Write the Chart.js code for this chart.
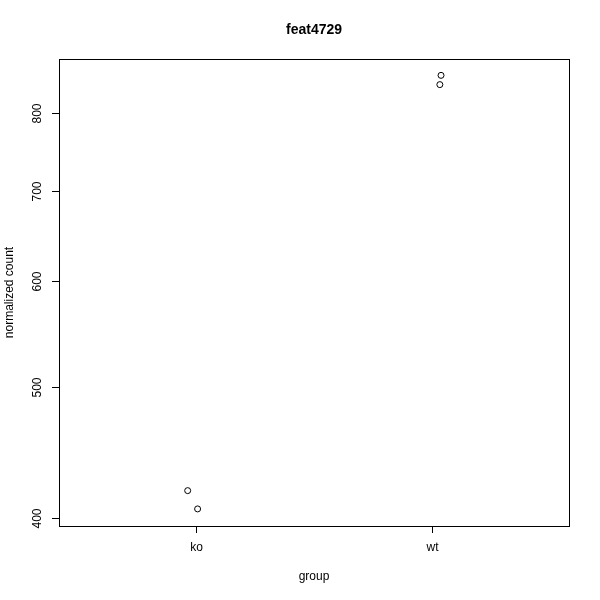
<!DOCTYPE html>
<html>
<head>
<meta charset="utf-8">
<script src="https://cdn.jsdelivr.net/npm/chart.js@4"></script>
<style>
  html, body { margin: 0; padding: 0; background: #fff; }
  #wrap { width: 600px; height: 600px; }
</style>
</head>
<body>
<div id="wrap"><canvas id="c" width="600" height="600"></canvas></div>
<script>
// plotCounts-style stripchart, log y axis
const titleText = 'feat4729';
const xTitle = 'group';
const yTitle = 'normalized count';

const groups = ['ko', 'wt'];
// x = group index + jitter, y = normalized count
const koX = [0.965, 1.007];
const koY = [419.1, 406.2];
const wtX = [2.038, 2.033];
const wtY = [852.8, 839.4];

const yTicks = [400, 500, 600, 700, 800];

const FONT = '"Liberation Sans", Arial, Helvetica, sans-serif';

const points = koX.map((x, i) => ({ x, y: koY[i] }))
  .concat(wtX.map((x, i) => ({ x, y: wtY[i] })));

// R-like frame, ticks and labels
const rAxes = {
  id: 'rAxes',
  afterDraw(chart) {
    const { ctx, chartArea: a, scales } = chart;
    const xs = scales.x, ys = scales.y;
    ctx.save();
    ctx.strokeStyle = '#000';
    ctx.lineWidth = 1;
    ctx.strokeRect(Math.round(a.left) + 0.5, Math.round(a.top) + 0.5,
      Math.round(a.right - a.left), Math.round(a.bottom - a.top));

    ctx.fillStyle = '#000';
    ctx.font = '12px ' + FONT;

    // x ticks
    ctx.textAlign = 'center';
    ctx.textBaseline = 'middle';
    groups.forEach((g, i) => {
      const px = Math.round(xs.getPixelForValue(i + 1)) + 0.5;
      ctx.beginPath();
      ctx.moveTo(px, a.bottom);
      ctx.lineTo(px, a.bottom + 7);
      ctx.stroke();
      ctx.fillText(g, px, 548);
    });

    // y ticks (rotated labels)
    yTicks.forEach(v => {
      const py = Math.round(ys.getPixelForValue(v)) + 0.5;
      ctx.beginPath();
      ctx.moveTo(a.left - 7, py);
      ctx.lineTo(a.left, py);
      ctx.stroke();
      ctx.save();
      ctx.translate(38, py);
      ctx.rotate(-Math.PI / 2);
      ctx.fillText(String(v), 0, 0);
      ctx.restore();
    });

    // titles
    const cx = (a.left + a.right) / 2;
    ctx.fillText(xTitle, cx, 577);
    ctx.save();
    ctx.translate(10, (a.top + a.bottom) / 2);
    ctx.rotate(-Math.PI / 2);
    ctx.fillText(yTitle, 0, 0);
    ctx.restore();

    ctx.font = 'bold 14px ' + FONT;
    ctx.fillText(titleText, cx, 30);
    ctx.restore();
  }
};

new Chart(document.getElementById('c'), {
  type: 'scatter',
  data: {
    datasets: [{
      data: points,
      showLine: false,
      pointStyle: 'circle',
      pointRadius: 3,
      pointHoverRadius: 3,
      borderColor: '#000',
      backgroundColor: 'rgba(0,0,0,0)',
      borderWidth: 1
    }]
  },
  options: {
    responsive: false,
    animation: false,
    devicePixelRatio: 1,
    layout: { padding: { top: 59, right: 31, left: 0, bottom: 0 } },
    plugins: { legend: { display: false }, tooltip: { enabled: false }, title: { display: false } },
    scales: {
      x: {
        type: 'linear',
        min: 0.42,
        max: 2.58,
        grid: { display: false },
        border: { display: false },
        ticks: { display: false },
        afterFit(s) { s.height = 74; }
      },
      y: {
        type: 'logarithmic',
        min: 394.5,
        max: 877,
        grid: { display: false },
        border: { display: false },
        ticks: { display: false },
        afterFit(s) { s.width = 59; }
      }
    }
  },
  plugins: [rAxes]
});
</script>
</body>
</html>
